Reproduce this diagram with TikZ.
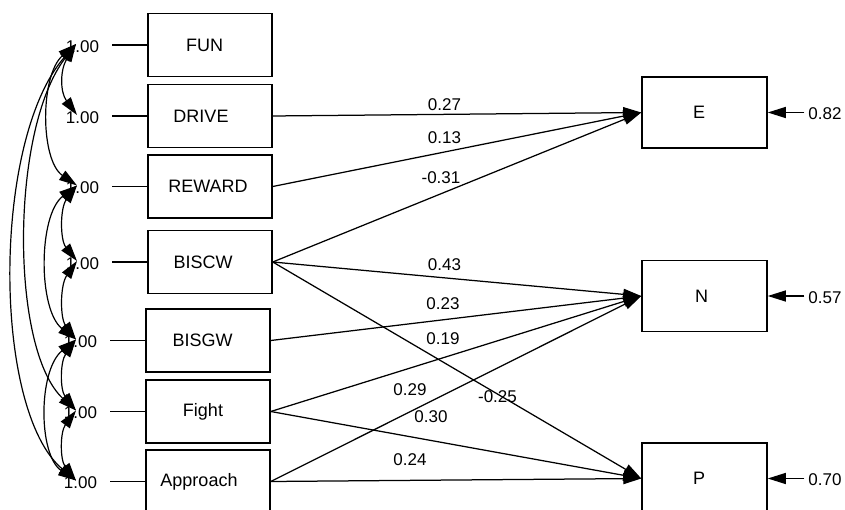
\documentclass[tikz,border=0pt]{standalone}
\usepackage{fontspec}
\setmainfont{Liberation Sans}
\usetikzlibrary{arrows.meta}
\begin{document}
\begin{tikzpicture}[x=1pt,y=-1pt,
  >={Triangle[length=18pt,width=11pt]},
  box/.style={draw,line width=1.5pt,minimum width=124pt,minimum height=63pt,inner sep=0pt},
  rbox/.style={box,minimum width=125pt,minimum height=71pt},
  lab/.style={font=\fontsize{18}{20}\selectfont,inner sep=0pt},
  num/.style={font=\fontsize{17}{19}\selectfont,inner sep=1pt},
  conn/.style={line width=1.25pt,->},
  cov/.style={line width=1.2pt,<->},
  stub/.style={line width=1.25pt,shorten <=12pt}]
\useasboundingbox (0,0) rectangle (845,510);
% exogenous boxes
\node[box,label={[lab,xshift=-5.5pt]center:FUN}] (fun) at (210,45) {};
\node[box,label={[lab,xshift=-9pt]center:DRIVE}] (drive) at (210,116) {};
\node[box,label={[lab,xshift=-2pt]center:REWARD}] (reward) at (210,186.5) {};
\node[box,label={[lab,xshift=-7pt]center:BISCW}] (biscw) at (210,262) {};
\node[box,label={[lab,xshift=-5.5pt]center:BISGW}] (bisgw) at (208,340.5) {};
\node[box,label={[lab,xshift=-5pt]center:Fight}] (fight) at (208,411.5) {};
\node[box,label={[lab,xshift=-9pt]center:Approach}] (approach) at (208,481.5) {};
% endogenous boxes
\node[rbox,label={[lab,xshift=-5.5pt]center:E}] (E) at (704.5,112.5) {};
\node[rbox,label={[lab,xshift=-3pt]center:N}] (N) at (704.5,296) {};
\node[rbox,label={[lab,xshift=-5.5pt]center:P}] (P) at (704.5,478.5) {};
% variances
\node[num] (v1) at (82.5,46.5) {1.00};
\node[num] (v2) at (82.5,117.5) {1.00};
\node[num] (v3) at (82.5,188) {1.00};
\node[num] (v4) at (82.5,263.5) {1.00};
\node[num] (v5) at (80.5,342) {1.00};
\node[num] (v6) at (80.5,413) {1.00};
\node[num] (v7) at (80.5,483) {1.00};
\draw[stub] (v1.east |- fun.west) -- (fun.west);
\draw[stub] (v2.east |- drive.west) -- (drive.west);
\draw[stub] (v3.east |- reward.west) -- (reward.west);
\draw[stub] (v4.east |- biscw.west) -- (biscw.west);
\draw[stub] (v5.east |- bisgw.west) -- (bisgw.west);
\draw[stub] (v6.east |- fight.west) -- (fight.west);
\draw[stub] (v7.east |- approach.west) -- (approach.west);
% covariance anchors
\coordinate (k1) at (76,44);
\coordinate (k2) at (77,115);
\coordinate (k3) at (77,185.5);
\coordinate (k4) at (77,261);
\coordinate (k5) at (76,339.5);
\coordinate (k6) at (76,410.5);
\coordinate (k7) at (76,480.5);
\draw[cov] (k1) .. controls (60,70) and (60,92) .. (k2);
\draw[cov] (k1) .. controls (40,75) and (40,160) .. (k3);
\draw[cov] (k1) .. controls (10,130) and (10,350) .. (k6);
\draw[cov] (k1) .. controls (-8,140) and (-8,410) .. (k7);
\draw[cov] (k3) .. controls (60,208) and (60,240) .. (k4);
\draw[cov] (k3) .. controls (38,215) and (38,310) .. (k5);
\draw[cov] (k4) .. controls (60,285) and (60,318) .. (k5);
\draw[cov] (k5) .. controls (60,362) and (60,390) .. (k6);
\draw[cov] (k5) .. controls (38,370) and (38,455) .. (k7);
\draw[cov] (k6) .. controls (60,432) and (60,460) .. (k7);
% paths
\draw[conn] (drive.east) -- (E.west);
\draw[conn] (reward.east) -- (E.west);
\draw[conn] (biscw.east) -- (E.west);
\draw[conn] (biscw.east) -- (N.west);
\draw[conn] (bisgw.east) -- (N.west);
\draw[conn] (fight.east) -- (N.west);
\draw[conn] (approach.east) -- (N.west);
\draw[conn] (biscw.east) -- (P.west);
\draw[conn] (fight.east) -- (P.west);
\draw[conn] (approach.east) -- (P.west);
% path labels
\node[num] (l1) at (444.5,105) {0.27};
\node[num] (l2) at (444.5,138) {0.13};
\node[num] (l3) at (441,177.5) {-0.31};
\node[num] (l4) at (444.5,265) {0.43};
\node[num] (l5) at (443,304) {0.23};
\node[num] (l6) at (443,339) {0.19};
\node[num] (l7) at (410,390) {0.29};
\node[num] (l8) at (497.5,397) {-0.25};
\node[num] (l9) at (431,417) {0.30};
\node[num] (l10) at (410,460) {0.24};
% residuals
\node[num] (eE) at (825,113.5) {0.82};
\node[num] (eN) at (825,297.5) {0.57};
\node[num] (eP) at (825,480) {0.70};
\draw[conn,shorten <=3pt] (eE.west |- E.east) -- (E.east);
\draw[conn,shorten <=3pt] (eN.west |- N.east) -- (N.east);
\draw[conn,shorten <=3pt] (eP.west |- P.east) -- (P.east);
\end{tikzpicture}
\end{document}
